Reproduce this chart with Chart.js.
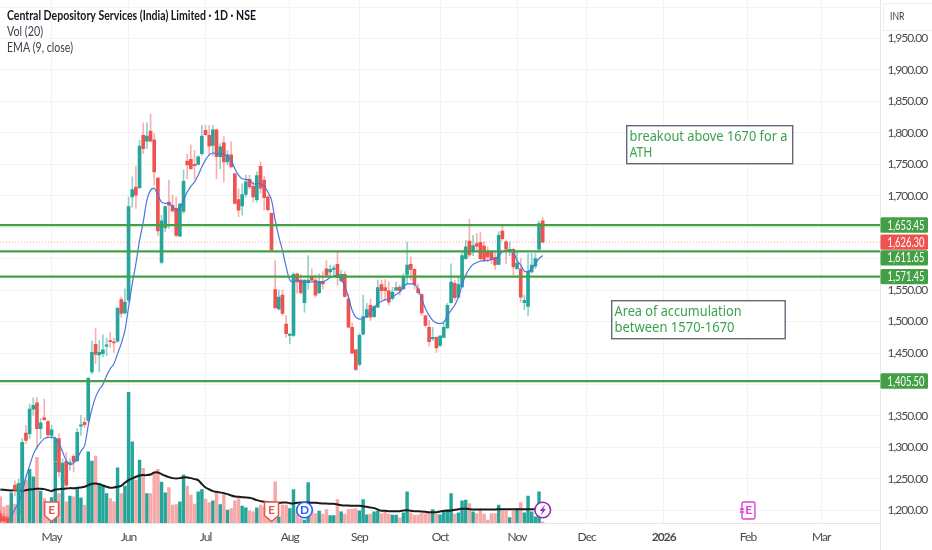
<!DOCTYPE html>
<html>
<head>
<meta charset="utf-8">
<title>CDSL 1D</title>
<script src="https://cdn.jsdelivr.net/npm/chart.js@4"></script>
<style>
  html, body { margin: 0; padding: 0; background: #fff; overflow: hidden; }
  canvas { display: block; }
</style>
</head>
<body>
<canvas id="chart" width="932" height="550"></canvas>
<script>
const opens = [
  1195,1190,1188,1182,1240,1194,1232,1323,1322,1361,
  1371,1330,1347,1341,1319,1279,1314,1245,1278,1274,
  1286,1279,1334,1340,1343,1420,1464,1447,1449,1461,
  1469,1468,1469,1535,1514,1534,1698,1714,1713,1796,
  1787,1803,1789,1728,1594,1649,1690,1685,1680,1636,
  1675,1755,1758,1750,1750,1767,1804,1796,1780,1805,
  1762,1784,1754,1765,1735,1694,1684,1702,1726,1715,
  1694,1747,1725,1698,1672,1551,1520,1542,1496,1478,
  1478,1576,1566,1530,1562,1572,1566,1546,1564,1584,
  1579,1583,1591,1565,1575,1536,1491,1455,1432,1480,
  1507,1526,1508,1523,1559,1554,1549,1537,1550,1555,
  1552,1575,1591,1583,1552,1543,1509,1491,1473,1475,
  1462,1475,1490,1530,1561,1539,1555,1600,1628,1611,
  1624,1626,1620,1611,1611,1602,1591,1644,1627,1613,
  1615,1584,1584,1530,1524,1579,1588,1615,1660
];
const closes = [
  1183,1183,1180,1205,1232,1242,1307,1311,1361,1367,
  1330,1339,1344,1320,1328,1314,1261,1275,1240,1276,
  1277,1324,1336,1336,1410,1451,1448,1451,1455,1463,
  1468,1466,1521,1513,1531,1683,1710,1701,1779,1775,
  1795,1787,1738,1644,1660,1683,1685,1676,1637,1687,
  1723,1749,1743,1748,1762,1795,1797,1779,1805,1762,
  1778,1754,1765,1746,1688,1677,1702,1722,1714,1698,
  1732,1712,1697,1678,1614,1522,1539,1513,1481,1480,
  1575,1563,1546,1566,1566,1566,1542,1564,1560,1574,
  1583,1584,1570,1575,1540,1491,1450,1424,1478,1508,
  1519,1507,1524,1554,1549,1549,1531,1547,1554,1549,
  1572,1590,1583,1559,1546,1514,1494,1468,1474,1458,
  1477,1491,1526,1563,1538,1559,1605,1619,1606,1621,
  1620,1600,1599,1603,1599,1590,1637,1632,1615,1614,
  1587,1593,1539,1534,1580,1590,1600,1656,1626.3
];
const highs = [
  1200,1195,1192,1212,1247,1250,1314,1335,1369,1379,
  1380,1346,1377,1343,1335,1317,1322,1282,1292,1282,
  1289,1330,1351,1347,1412,1469,1489,1470,1479,1474,
  1483,1474,1523,1539,1552,1698,1730,1747,1788,1816,
  1816,1830,1799,1729,1669,1684,1725,1701,1698,1688,
  1741,1766,1781,1772,1764,1812,1812,1812,1812,1806,
  1783,1794,1772,1786,1736,1711,1719,1733,1733,1722,
  1738,1754,1731,1701,1673,1597,1550,1550,1510,1481,
  1578,1577,1575,1567,1605,1584,1574,1576,1579,1597,
  1590,1590,1611,1582,1579,1544,1498,1456,1481,1542,
  1529,1536,1525,1566,1566,1567,1563,1555,1563,1558,
  1576,1627,1603,1584,1560,1544,1510,1502,1491,1476,
  1478,1497,1529,1592,1566,1571,1611,1629,1663,1637,
  1640,1642,1627,1619,1613,1611,1643,1652,1630,1627,
  1616,1611,1600,1542,1608,1608,1608,1660,1665.4
];
const lows = [
  1180,1180,1179,1180,1223,1192,1229,1306,1314,1351,
  1298,1314,1343,1316,1314,1277,1253,1237,1237,1264,
  1261,1277,1319,1332,1340,1417,1433,1420,1444,1446,
  1459,1451,1467,1507,1512,1531,1682,1680,1711,1767,
  1775,1786,1717,1637,1592,1643,1648,1674,1635,1635,
  1672,1727,1742,1727,1749,1764,1796,1764,1764,1727,
  1743,1722,1749,1745,1687,1667,1669,1698,1711,1690,
  1690,1704,1677,1676,1612,1520,1518,1510,1475,1465,
  1476,1545,1543,1515,1551,1563,1539,1544,1552,1571,
  1571,1574,1558,1563,1539,1490,1449,1422,1430,1479,
  1506,1502,1507,1522,1534,1534,1526,1534,1549,1542,
  1551,1560,1566,1552,1543,1510,1491,1461,1470,1451,
  1460,1474,1489,1529,1534,1538,1554,1599,1603,1605,
  1613,1597,1595,1595,1592,1583,1590,1629,1592,1605,
  1574,1583,1531,1519,1509,1577,1584,1613,1625
];
const vols = [
  80,50,55,92,58,120,243,130,162,140,
  198,97,75,52,78,185,90,138,65,82,
  80,105,77,55,215,187,202,120,115,90,
  75,65,167,90,112,393,245,130,190,165,
  90,90,150,162,124,92,108,55,57,65,
  145,112,85,58,95,102,73,63,68,95,
  57,90,40,45,68,75,52,47,38,35,
  47,55,50,40,60,125,20,55,55,45,
  102,40,15,10,123,40,30,37,28,42,
  24,24,72,35,28,42,43,45,38,72,
  26,28,35,37,30,35,28,25,25,17,
  32,95,32,25,26,30,30,32,42,28,
  26,38,42,90,28,32,68,70,60,35,
  30,44,28,10,30,30,55,38,38,18,
  38,45,63,32,82,35,20,95,5
];
const volAvg = [
  102,101,100,99,100,99,99,100,102,103,
  104,104,103,100,97,102,103,104,105,106,
  106,107,108,110,115,119,120,118,114,110,
  107,108,110,113,122,130,135,140,144,145,
  145,147,153,153,148,143,139,136,135,136,
  138,138,136,133,130,118,108,102,97,95,
  93,91,88,84,81,80,79,78,77,74,
  70,67,65,64,63,62,61,63,63,61,
  60,62,63,63,63,62,62,61,60,60,
  59,59,57,55,54,54,53,53,53,52,
  50,48,46,42,38,38,37,37,37,37,
  39,40,38,37,37,36,35,34,34,34,
  36,38,38,39,41,43,44,44,43,42,
  42,42,42,42,42,42,43,43,43,43,
  43,43,43,43,43,43,43
];
const ema = [
  null,null,null,1190,1202,1212,1229,1253,1271,1289,
  1300,1308,1314,1316,1316,1315,1307,1293,1279,1273,
  1275,1283,1294,1303,1335,1361,1380,1392,1400,1414,
  1425,1433,1449,1465,1486,1523,1560,1592,1629,1658,
  1693,1709,1712,1701,1690,1688,1688,1683,1677,1680,
  1693,1706,1715,1722,1733,1746,1757,1765,1768,1767,
  1767,1766,1763,1757,1743,1733,1727,1726,1725,1719,
  1719,1719,1715,1706,1693,1661,1635,1613,1587,1566,
  1563,1566,1563,1563,1563,1563,1563,1562,1563,1566,
  1570,1572,1574,1568,1556,1539,1518,1507,1504,1505,
  1510,1515,1522,1529,1532,1535,1536,1539,1543,1547,
  1555,1560,1560,1559,1552,1536,1521,1510,1502,1498,
  1497,1499,1510,1518,1526,1539,1558,1574,1584,1591,
  1594,1596,1597,1597,1599,1599,1605,1611,1613,1613,
  1611,1597,1590,1580,1580,1584,1592,1600,1605
];

// price axis
const priceTicks = [1200,1250,1300,1350,1400,1450,1500,1550,1600,1650,1700,1750,1800,1850,1900,1950,2000];
// month labels, placed at the bar index of the first session
const monthLabels = ['May','Jun','Jul','Aug','Sep','Oct','Nov','Dec','2026','Feb','Mar'];
const monthBars = [14,35,56,79,98,120,141,160,181,204,224];

// drawn levels and their tags
const levels = [1653.45,1611.65,1571.45,1405.5];
const lastPrice = 1626.3;

const UP = '#26a69a';
const DOWN = '#ef5350';
const DOWN_VOL = '#f7a9a7';
const LEVEL = '#43a047';
const FONT = 'Lato,"Liberation Sans",sans-serif';
const NOTE_FONT = '"Noto Sans",Lato,sans-serif';

const X_MIN = -0.082, X_MAX = 240.17;
const isUp = opens.map((o, i) => closes[i] >= o);
const idx = opens.map((o, i) => i);
const fmt = v => v.toLocaleString('en-US', { minimumFractionDigits: 2, maximumFractionDigits: 2 });

function levelLine(y, color, width, dash, order) {
  return {
    type: 'line',
    data: [{ x: X_MIN, y: y }, { x: X_MAX, y: y }],
    borderColor: color,
    borderWidth: width,
    borderDash: dash,
    pointRadius: 0,
    yAxisID: 'y',
    order: order
  };
}

// tags, notes and event badges that sit on top of the plot
const overlay = {
  id: 'overlay',
  beforeDraw(chart) {
    // axis labels in the reference are tight, the library has no option for it
    chart.ctx.letterSpacing = '-0.95px';
  },
  afterDraw(chart) {
    const ctx = chart.ctx;
    const yS = chart.scales.y, xS = chart.scales.x;
    ctx.letterSpacing = '0px';
    ctx.save();

    // pane edges
    ctx.strokeStyle = '#e6e6e6';
    ctx.lineWidth = 1;
    ctx.beginPath();
    ctx.moveTo(880.5, 0); ctx.lineTo(880.5, 550);
    ctx.moveTo(0, 523.5); ctx.lineTo(880.5, 523.5);
    ctx.stroke();

    // price tags, shift moves a tag off its neighbour
    function tag(value, color, shift) {
      const y = yS.getPixelForValue(value) + shift;
      ctx.fillStyle = color;
      ctx.beginPath();
      ctx.roundRect(880.5, y - 7.7, 47.5, 15.4, 1.5);
      ctx.fill();
      ctx.fillStyle = '#fff';
      ctx.font = '12.5px ' + FONT;
      ctx.textAlign = 'left';
      ctx.textBaseline = 'middle';
      ctx.fillText(fmt(value), 887.5, y + 0.5, 37);
    }
    levels.forEach(v => tag(v, LEVEL, v === 1611.65 ? 6.5 : 0));
    tag(lastPrice, DOWN, 0);

    // notes
    function note(x, y, w, h, lines, widths) {
      ctx.fillStyle = 'rgba(255,255,255,0.9)';
      ctx.fillRect(x, y, w, h);
      ctx.strokeStyle = '#5d6b7a';
      ctx.lineWidth = 1.4;
      ctx.strokeRect(x, y, w, h);
      ctx.fillStyle = '#3ba34f';
      ctx.font = '14px ' + NOTE_FONT;
      ctx.textAlign = 'left';
      ctx.textBaseline = 'middle';
      lines.forEach((t, i) => ctx.fillText(t, x + 2.8, y + 11.5 + i * 15.5, widths[i]));
    }
    note(626.7, 125.7, 166, 38, ['breakout above 1670 for a', 'ATH'], [158, 23]);
    note(611.7, 300.7, 173.5, 38, ['Area of accumulation', 'between 1570-1670'], [127, 120]);

    // legend
    ctx.fillStyle = '#131722';
    ctx.textAlign = 'left';
    ctx.textBaseline = 'middle';
    ctx.font = 'bold 13px ' + FONT;
    ctx.fillText('Central Depository Services (India) Limited · 1D · NSE', 7, 16, 249);
    ctx.fillStyle = '#3a3e4a';
    ctx.font = '12.5px ' + FONT;
    ctx.fillText('Vol (20)', 7, 32, 36);
    ctx.fillText('EMA (9, close)', 7, 48, 66);

    // currency box
    ctx.strokeStyle = '#f0f0f0';
    ctx.lineWidth = 1;
    ctx.strokeRect(883.5, 3.5, 50, 27);
    ctx.fillStyle = '#3a3e4a';
    ctx.font = '12px ' + FONT;
    ctx.fillText('INR', 890, 16, 14.5);

    // earnings shields
    function shield(i) {
      const x = xS.getPixelForValue(i), t = 502, b = 521.5;
      ctx.fillStyle = '#fff';
      ctx.strokeStyle = DOWN;
      ctx.lineWidth = 1.6;
      ctx.beginPath();
      ctx.moveTo(x - 7, t); ctx.lineTo(x + 7, t); ctx.lineTo(x + 7, b - 6);
      ctx.lineTo(x, b); ctx.lineTo(x - 7, b - 6);
      ctx.closePath();
      ctx.fill(); ctx.stroke();
      ctx.fillStyle = DOWN;
      ctx.font = 'bold 12px ' + FONT;
      ctx.textAlign = 'center';
      ctx.fillText('E', x, 510.5);
    }
    shield(14);
    shield(74);

    // dividend
    let cx = xS.getPixelForValue(83);
    ctx.fillStyle = '#fff';
    ctx.strokeStyle = '#2962ff';
    ctx.lineWidth = 1.6;
    ctx.beginPath(); ctx.arc(cx, 510, 7.8, 0, Math.PI * 2); ctx.fill(); ctx.stroke();
    ctx.fillStyle = '#2962ff';
    ctx.font = 'bold 12px ' + FONT;
    ctx.fillText('D', cx, 510.5);

    // news bolt
    cx = xS.getPixelForValue(148);
    ctx.fillStyle = '#fff';
    ctx.strokeStyle = '#9c27b0';
    ctx.beginPath(); ctx.arc(cx, 510, 7.8, 0, Math.PI * 2); ctx.fill(); ctx.stroke();
    ctx.fillStyle = '#9c27b0';
    ctx.beginPath();
    ctx.moveTo(cx + 2.5, 504.5); ctx.lineTo(cx - 3, 511); ctx.lineTo(cx - 0.3, 511);
    ctx.lineTo(cx - 2, 515.5); ctx.lineTo(cx + 3.2, 509); ctx.lineTo(cx + 0.5, 509);
    ctx.closePath();
    ctx.fill();

    // next earnings
    cx = xS.getPixelForValue(204);
    ctx.fillStyle = '#fff';
    ctx.strokeStyle = '#e040d8';
    ctx.lineWidth = 1.4;
    ctx.beginPath(); ctx.roundRect(cx - 6, 502, 13, 17, 2); ctx.fill(); ctx.stroke();
    ctx.beginPath();
    ctx.moveTo(cx - 8, 509); ctx.lineTo(cx - 4, 509);
    ctx.moveTo(cx - 8, 512); ctx.lineTo(cx - 4, 512);
    ctx.stroke();
    ctx.fillStyle = '#e040d8';
    ctx.font = 'bold 12px ' + FONT;
    ctx.fillText('E', cx + 0.8, 510.5);

    ctx.restore();
  }
};

new Chart(document.getElementById('chart'), {
  data: {
    datasets: [
      ...levels.map(v => levelLine(v, LEVEL, 2.2, [], 0)),
      levelLine(lastPrice, 'rgba(239,83,80,0.55)', 1, [1, 2], 1),
      {
        type: 'line',
        data: idx.map(i => ({ x: i, y: ema[i] })),
        borderColor: '#4a74e0',
        borderWidth: 1.2,
        pointRadius: 0,
        tension: 0.3,
        yAxisID: 'y',
        order: 2
      },
      {
        type: 'bar',
        data: idx.map(i => ({ x: i, y: [Math.min(opens[i], closes[i]), Math.max(opens[i], closes[i])] })),
        backgroundColor: idx.map(i => isUp[i] ? UP : DOWN),
        barThickness: 3,
        minBarLength: 1.2,
        grouped: false,
        yAxisID: 'y',
        order: 3
      },
      {
        type: 'bar',
        data: idx.map(i => ({ x: i, y: [lows[i], highs[i]] })),
        backgroundColor: idx.map(i => isUp[i] ? 'rgba(38,166,154,0.5)' : 'rgba(239,83,80,0.45)'),
        barThickness: 1,
        grouped: false,
        yAxisID: 'y',
        order: 4
      },
      {
        type: 'line',
        data: volAvg.map((v, i) => ({ x: i, y: v })),
        borderColor: '#1a1a1a',
        borderWidth: 2,
        pointRadius: 0,
        tension: 0.2,
        yAxisID: 'vol',
        order: 5
      },
      {
        type: 'bar',
        data: idx.map(i => ({ x: i, y: vols[i] })),
        backgroundColor: idx.map(i => isUp[i] ? UP : DOWN_VOL),
        barThickness: 2.8,
        grouped: false,
        yAxisID: 'vol',
        order: 6
      }
    ]
  },
  options: {
    responsive: false,
    animation: false,
    devicePixelRatio: 1,
    layout: { padding: 0 },
    plugins: { legend: { display: false }, tooltip: { enabled: false } },
    scales: {
      x: {
        type: 'linear',
        offset: false,
        min: X_MIN,
        max: X_MAX,
        afterBuildTicks: s => { s.ticks = monthBars.map(v => ({ value: v })); },
        afterFit: s => { s.height = 26.5; s.paddingLeft = 0; s.paddingRight = 0; },
        grid: { color: '#f3f3f3', drawTicks: false, offset: false },
        border: { display: false },
        ticks: {
          autoSkip: false,
          maxRotation: 0,
          padding: 6,
          color: '#4a4a4a',
          font: c => ({ family: FONT, size: 12, weight: c.tick && c.tick.value === 181 ? 'bold' : 'normal' }),
          callback: v => monthLabels[monthBars.indexOf(v)]
        }
      },
      y: {
        position: 'right',
        min: 1179.1,
        max: 2011.2,
        afterBuildTicks: s => { s.ticks = priceTicks.map(v => ({ value: v })); },
        afterFit: s => { s.width = 51.5; s.paddingTop = 0; s.paddingBottom = 0; },
        grid: { color: '#f3f3f3', drawTicks: false },
        border: { display: false },
        ticks: {
          padding: 7,
          color: '#4a4a4a',
          font: { family: FONT, size: 12 },
          callback: v => v === 2000 ? '' : fmt(v)
        }
      },
      vol: {
        display: false,
        min: 0,
        max: 1569
      }
    }
  },
  plugins: [overlay]
});
</script>
</body>
</html>
